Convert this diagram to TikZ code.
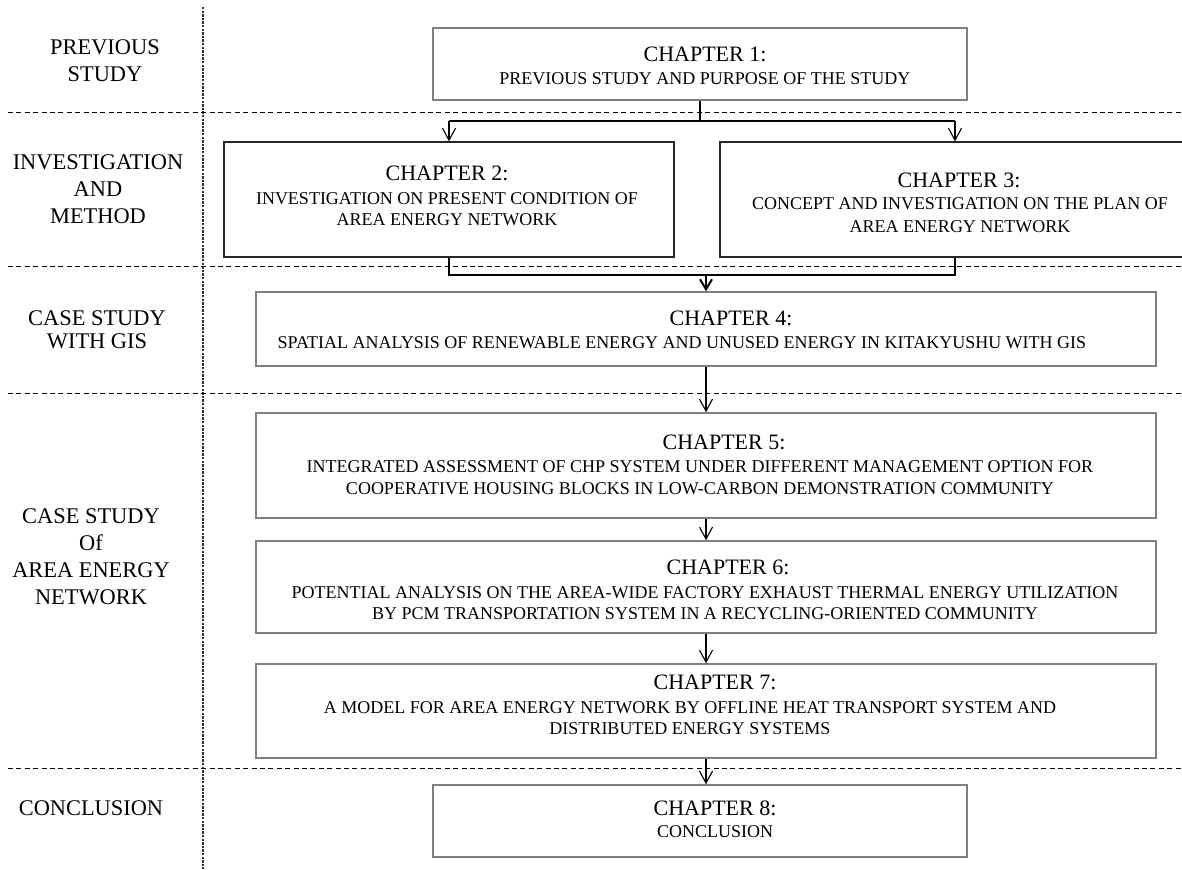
\documentclass[tikz,border=0pt]{standalone}
\usepackage{fontspec}
\setmainfont{Liberation Serif}
\usetikzlibrary{arrows.meta}

\tikzset{
  graybox/.style={draw=black!50, line width=0.75pt, rectangle, inner sep=0pt},
  darkbox/.style={draw=black!85, line width=0.65pt, rectangle, inner sep=0pt},
  ttl/.style={font=\fontsize{11}{13}\selectfont, inner sep=0pt},
  subtxt/.style={font=\fontsize{9}{10.5}\selectfont, align=center, inner sep=0pt},
  side/.style={font=\fontsize{11.2}{13.5}\selectfont, align=center, inner sep=0pt},
  rowsep/.style={line width=0.5pt, dash pattern=on 2.5pt off 1.7pt},
  colsep/.style={line width=0.6pt, black!80, dash pattern=on 1.2pt off 0.6pt},
  link/.style={line width=0.55pt},
  flow/.style={link, -{Straight Barb[length=6pt,width=6.5pt]}},
  boldflow/.style={link, -{Straight Barb[length=5pt,width=6pt,line width=1pt]}},
}

\begin{document}
\begin{tikzpicture}[x=0.5pt, y=-0.5pt]
\useasboundingbox (0,0) rectangle (1182,869);
\clip (0,0) rectangle (1182,869);

% column and row separators
\draw[colsep] (203,7) -- (203,869);
\draw[rowsep] (8,112) -- (1182,112);
\draw[rowsep] (8,266) -- (1182,266);
\draw[rowsep] (8,393) -- (1182,393);
\draw[rowsep] (8,768) -- (1182,768);

% row labels
\node[side] (l1) at (105,60.5) {PREVIOUS\\STUDY};
\node[side] (l2) at (98,189) {INVESTIGATION\\AND\\METHOD};
\node[side] (l3) at (97,329.5) {CASE STUDY\\[-2pt]WITH GIS};
\node[side] (l4) at (91,557) {CASE STUDY\\Of\\AREA ENERGY\\NETWORK};
\node[side] (l5) at (91,808) {CONCLUSION};

% chapter boxes
\node[graybox, minimum width=267pt, minimum height=36pt] (ch1) at (700,64) {};
\node[darkbox, minimum width=225pt, minimum height=57.5pt] (ch2) at (449,199.5) {};
\node[darkbox, minimum width=235pt, minimum height=57.5pt] (ch3) at (955,199.5) {};
\node[graybox, minimum width=450pt, minimum height=37pt] (ch4) at (706,329) {};
\node[graybox, minimum width=450pt, minimum height=52.5pt] (ch5) at (706,465.5) {};
\node[graybox, minimum width=450pt, minimum height=46pt] (ch6) at (706,587) {};
\node[graybox, minimum width=450pt, minimum height=47pt] (ch7) at (706,711) {};
\node[graybox, minimum width=267pt, minimum height=36pt] (ch8) at (700,821) {};

% chapter titles and subjects
\node[ttl] (t1) at (705,54) {CHAPTER 1:};
\node[subtxt] (s1) at (705,79) {PREVIOUS STUDY AND PURPOSE OF THE STUDY};

\node[ttl] (t2) at (447,173) {CHAPTER 2:};
\node[subtxt] (s2) at (447,209) {INVESTIGATION ON PRESENT CONDITION OF\\AREA ENERGY NETWORK};

\node[ttl] (t3) at (959,180) {CHAPTER 3:};
\node[subtxt] (s3) at (960,215.5) {CONCEPT AND INVESTIGATION ON THE PLAN OF\\[1pt]AREA ENERGY NETWORK};

\node[ttl] (t4) at (731,318) {CHAPTER 4:};
\node[subtxt] (s4) at (682,343) {SPATIAL ANALYSIS OF RENEWABLE ENERGY AND UNUSED ENERGY IN KITAKYUSHU WITH GIS};

\node[ttl] (t5) at (724,442) {CHAPTER 5:};
\node[subtxt] (s5) at (700,478) {INTEGRATED ASSESSMENT OF CHP SYSTEM UNDER DIFFERENT MANAGEMENT OPTION FOR\\[0.5pt]COOPERATIVE HOUSING BLOCKS IN LOW-CARBON DEMONSTRATION COMMUNITY};

\node[ttl] (t6) at (728,567) {CHAPTER 6:};
\node[subtxt] (s6) at (705,603) {POTENTIAL ANALYSIS ON THE AREA-WIDE FACTORY EXHAUST THERMAL ENERGY UTILIZATION\\BY PCM TRANSPORTATION SYSTEM IN A RECYCLING-ORIENTED COMMUNITY};

\node[ttl] (t7) at (715,682) {CHAPTER 7:};
\node[subtxt] (s7) at (690,718) {A MODEL FOR AREA ENERGY NETWORK BY OFFLINE HEAT TRANSPORT SYSTEM AND\\DISTRIBUTED ENERGY SYSTEMS};

\node[ttl] (t8) at (715,808) {CHAPTER 8:};
\node[subtxt] (s8) at (715,832) {CONCLUSION};

% branching from chapter 1
\coordinate (j1) at (700,121);
\draw[link] (ch1.south) -- (ch1.south |- j1);
\draw[link] (ch2.north |- j1) -- (ch3.north |- j1);
\draw[flow] (ch2.north |- j1) -- (ch2.north);
\draw[flow] (ch3.north |- j1) -- (ch3.north);

% merging into chapter 4
\coordinate (j2) at (706,275);
\draw[link] (ch2.south) -- (ch2.south |- j2) -- (ch3.south |- j2) -- (ch3.south);
\draw[boldflow] (ch4.north |- j2) -- (ch4.north);

% sequence of case studies
\draw[flow] (ch4.south) -- (ch5.north);
\draw[flow] (ch5.south) -- (ch6.north);
\draw[flow] (ch6.south) -- (ch7.north);
\draw[flow] (ch7.south) -- (ch7.south |- ch8.north);
\end{tikzpicture}
\end{document}
